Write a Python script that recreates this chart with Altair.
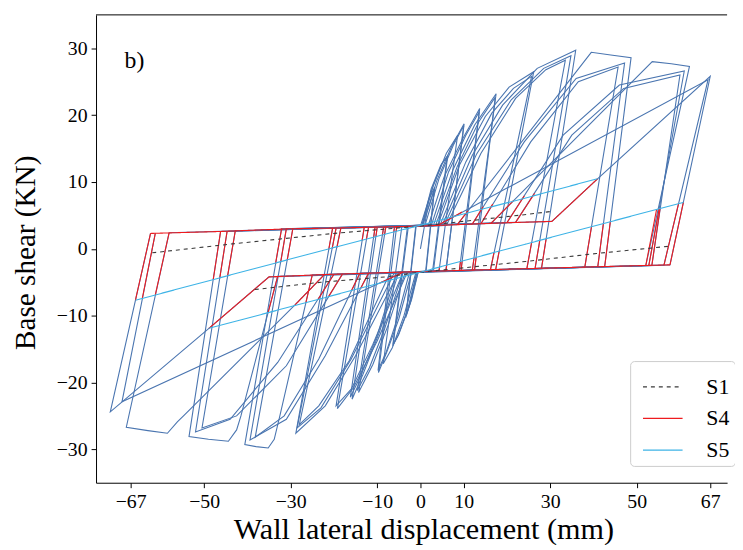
import altair as alt
import pandas as pd

FONT = "Liberation Serif"
X_TICKS = [-67, -50, -30, -10, 0, 10, 30, 50, 67]
Y_TICKS = [-30, -20, -10, 0, 10, 20, 30]
SERIES = ["S1", "S4", "S5"]
SERIES_COLORS = ["#3a3a3a", "#ee1b1f", "#3db3e6"]
SERIES_DASH = [[4, 4], [1, 0], [1, 0]]
BLUE_COLOR = "#4a75b0"

# reference hysteresis (blue, not in legend): one polyline per cycle
BLUE = [
    [(0, 0), (1.5, 5.5), (3.2, 8.8), (1.2, -3.4), (-0.5, -3.4), (-2, -7.5), (-3.3, -10), (-1, 3.35), (0.5, 3.4)],
    [(0.5, 3.4), (2, 7.5), (3.3, 9.2), (1.3, -3.4), (-0.8, -3.45), (-2.2, -7.8), (-3.4, -10.3), (-1.1, 3.35), (0.3, 3.4)],
    [(0.3, 3.4), (2.5, 9), (4.7, 12.5), (6.2, 13.8), (2.8, -3.35), (-0.5, -3.4), (-2.8, -9), (-5, -12.8), (-6.3, -14.3), (-2.8, 3.3), (0, 3.4)],
    [(0, 3.4), (2.8, 9.2), (5, 12.8), (6.3, 13.9), (3, -3.35), (-0.8, -3.45), (-3, -9.2), (-5.2, -13), (-6.4, -14.5), (-3, 3.3), (0.3, 3.4)],
    [(0.3, 3.4), (3, 9.5), (6, 14.3), (8.6, 17), (4.3, -3.3), (-1, -3.45), (-3.8, -10), (-6.5, -14.8), (-8.6, -17.2), (-4.3, 3.3), (0.5, 3.4)],
    [(0.5, 3.4), (3.8, 10.2), (7.2, 15.3), (10.1, 18.7), (5.9, -3.3), (-2, -3.45), (-5, -10.5), (-7.8, -15.5), (-9.7, -18.5), (-5.5, 3.3), (1, 3.4)],
    [(1, 3.4), (4.3, 10.5), (7.6, 15.5), (10, 18.4), (5.9, -3.3), (-2.5, -3.45), (-5.5, -10.8), (-8, -15.6), (-9.8, -18.2), (-6, 3.3), (1.8, 3.45)],
    [(1.8, 3.45), (5.5, 10.8), (9.8, 16.5), (13.7, 21), (9.4, -3.25), (-3.5, -3.5), (-7.5, -11.5), (-11, -17.3), (-14.3, -21.5), (-8, 3.25), (2.5, 3.45)],
    [(2.5, 3.45), (6.5, 11.5), (10.5, 17), (13.6, 20.5), (9, -3.25), (-4, -3.5), (-8.3, -12), (-11.8, -17.8), (-14.6, -21.2), (-8.5, 3.25), (3, 3.5)],
    [(3, 3.5), (7.5, 11.8), (12.5, 18.5), (17.5, 23.2), (12, -3.2), (-5, -3.5), (-9.5, -12.5), (-13.3, -18.8), (-15.8, -22.5), (-10, 3.2), (3.5, 3.5)],
    [(3.5, 3.5), (8.5, 12.3), (13.5, 19), (17.3, 22.7), (12.5, -3.2), (-5.5, -3.5), (-10, -13), (-13.8, -19), (-16.2, -22.2), (-10.5, 3.2), (4, 3.5)],
    [(4, 3.5), (9, 12.5), (15, 19.8), (20.5, 24.2), (26.2, 26.5), (17.4, -3.1), (-3, -3.45), (-10, -13.8), (-15.5, -20.8), (-19.2, -23.9), (-12, 3.2), (4.5, 3.5)],
    [(4.5, 3.5), (10.5, 13), (16.5, 20.3), (21.5, 24), (25.7, 25.8), (16.2, -3.1), (-4, -3.5), (-11, -14.3), (-16, -21), (-19.5, -23.5), (-13, 3.2), (5, 3.5)],
    [(5, 3.5), (12, 14), (19, 21.5), (27, 27), (35.9, 29.7), (28, -2.9), (-5, -3.5), (-15, -16), (-22, -23.5), (-28.8, -27.6), (-20.3, 3.1), (5.5, 3.5)],
    [(5.5, 3.5), (13, 14.2), (21, 22.3), (28.5, 27), (34.8, 28.9), (26.5, -2.95), (-6, -3.55), (-16, -16.5), (-23, -23.8), (-28.5, -26.8), (-19.5, 3.1), (6, 3.5)],
    [(6, 3.5), (14, 14.3), (22, 22.5), (29, 26.8), (33.5, 28.2), (24.6, -3.0), (-7, -3.55), (-16.5, -16.8), (-23.5, -23.5), (-28, -26.3), (-18.4, 3.1), (8.5, 3.6)],
    [(8.5, 3.6), (39.5, 29.4), (44, 29), (48.7, 28.6), (42.6, -2.65), (-25, -3.9), (-32.5, -25), (-33.8, -28.5), (-35.2, -29.8), (-38, -29.6), (-40.6, -29.3), (-32.1, 3.0), (12, 3.7)],
    [(12, 3.7), (24, 16), (36, 25.5), (47.2, 27.8), (41, -2.7), (-12, -3.65), (-22, -16), (-31, -25.5), (-39.4, -28.6), (-31, 3.0), (14, 3.75)],
    [(14, 3.75), (25.5, 16), (36.5, 25), (45.7, 27.2), (38, -2.75), (-14, -3.65), (-23.5, -16.5), (-31.5, -25), (-38.2, -28.2), (-29.5, 3.0), (16.3, 3.8)],
    [(16.3, 3.8), (53.6, 28), (58, 27.7), (62.2, 27.3), (52.1, -2.5), (-33, -4.1), (-41.5, -25), (-42.5, -27.1), (-44.4, -28.8), (-49, -28.5), (-53.5, -28.1), (-46.2, 2.6), (20, 3.9)],
    [(20, 3.9), (33, 17), (46, 24.5), (61, 26.6), (52.8, -2.5), (-20, -3.8), (-33, -17), (-44, -25.5), (-52, -27.4), (-44.7, 2.6), (22, 3.95)],
    [(22, 3.95), (35, 17), (47, 24), (60, 26), (53.5, -2.5), (-18, -3.75), (-31, -17.5), (-42.5, -25), (-50.5, -26.8), (-42.8, 2.7), (30.4, 4.1)],
    [(30.4, 4.1), (41, 10.5), (67, 25.8), (57.7, -2.4), (-22.2, -3.85), (-29, -8.4), (-54.6, -24.9), (-56.2, -25.9), (-58.5, -27.6), (-63, -27.2), (-68, -26.7), (-58.1, 2.4), (4, 3.5)],
    [(4, 3.5), (66.5, 25.3), (56.3, -2.45), (-35, -4.2), (-48.9, -11.9), (-71.7, -24.4), (-62.4, 2.3)],
    [(-4, -3.5), (-69, -22.9), (-61.3, 2.3)],
]

S4 = [
    [(-62.4, 2.3), (-46, 2.6), (-30, 3.0), (-20, 3.1), (0, 3.4), (20, 3.9), (30.4, 4.1), (41, 10.5)],
    [(-48.9, -11.9), (-35, -4.2), (-22, -3.85), (0, -3.4), (20, -3.05), (40, -2.7), (57.7, -2.4)],
    [(-22.2, -3.85), (-29, -8.4)],
    [(16.3, 3.8), (21.5, 7.2)], [(8.5, 3.6), (11, 5.7)], [(4, 3.5), (9.6, 5.5)],
    [(12, 3.7), (14.5, 6.3)], [(14, 3.75), (16.7, 6.7)], [(20, 3.9), (24, 7.9)], [(22, 3.95), (26.4, 8.3)],
    [(-4, -3.5), (-9.3, -5.1)], [(-12, -3.65), (-13.8, -5.9)], [(-14, -3.65), (-15.9, -6.2)],
    [(-20, -3.8), (-23.7, -7.6)], [(-18, -3.75), (-21.2, -7.1)], [(-25, -3.9), (-26.5, -8.1)], [(-33, -4.1), (-35.2, -9.5)],
    [(-62.4, 2.3), (-65.9, -7.7)], [(-61.3, 2.3), (-64.3, -7.4)], [(-58.1, 2.4), (-61.3, -6.9)],
    [(-46.2, 2.6), (-47.9, -4.6)], [(-44.7, 2.6), (-46.4, -4.4)], [(-42.8, 2.7), (-44.6, -4.1)],
    [(-32.1, 3.0), (-33.5, -2.2)], [(-31, 3.0), (-32.3, -2.0)], [(-29.5, 3.0), (-30.8, -1.7)],
    [(-20.3, 3.1), (-21.2, -0.1)], [(-19.5, 3.1), (-20.4, 0.05)], [(-18.4, 3.1), (-19.3, 0.2)],
    [(-13, 3.2), (-13.5, 1.2)], [(-12, 3.2), (-12.5, 1.4)], [(-10.5, 3.2), (-10.8, 1.7)], [(-10, 3.2), (-10.3, 1.8)],
    [(-8.5, 3.25), (-8.8, 2.0)], [(-8, 3.25), (-8.3, 2.1)], [(-6, 3.3), (-6.15, 2.5)], [(-5.5, 3.3), (-5.6, 2.6)],
    [(57.7, -2.4), (60.8, 6.95)], [(56.3, -2.45), (59.7, 6.8)], [(52.1, -2.5), (54.6, 5.9)],
    [(52.8, -2.5), (55.2, 6.0)], [(53.5, -2.5), (55.4, 6.0)],
    [(42.6, -2.65), (43.9, 4.05)], [(41, -2.7), (42.3, 3.8)], [(38, -2.75), (39.55, 3.3)],
    [(28, -2.9), (29.06, 1.5)], [(26.5, -2.95), (27.6, 1.26)], [(24.6, -3.0), (25.7, 0.94)],
    [(17.4, -3.1), (18.2, -0.36)], [(16.2, -3.1), (17.0, -0.56)],
    [(12, -3.2), (12.4, -1.36)], [(12.5, -3.2), (12.9, -1.27)],
    [(9.4, -3.25), (9.65, -1.83)], [(9, -3.25), (9.25, -1.9)],
    [(5.9, -3.3), (6.06, -2.45)], [(4.3, -3.3), (4.4, -2.73)],
]

S1 = [
    [(-62, -0.6), (-44, 0.7), (-20, 2.3), (0, 3.4), (24, 5.1), (30.4, 5.6)],
    [(-38.3, -6.1), (-23, -5.0), (-8, -4.2), (0, -3.5), (24.3, -1.9), (40.7, -0.7), (57.8, 0.4)],
]

S5 = [
    [(-65.9, -7.7), (-20, 0.2), (24.3, 7.6), (41, 10.5)],
    [(-48.9, -11.9), (-21.5, -7.2), (24.3, 0.7), (60.8, 6.95)],
]

PANEL = [{"label": "b)", "x": -68.4, "y": 27.0}]


def rows(paths, series):
    out = []
    for k, p in enumerate(paths):
        for i, (x, y) in enumerate(p):
            out.append({"series": series, "id": f"{series}-{k}", "i": i, "x": x, "y": y})
    return pd.DataFrame(out)


W, H = 638, 473
X_DOM = [-75, 70.9]
Y_DOM = [-35, 35]
MINUS = "datum.value < 0 ? '\u2212' + abs(datum.value) : '' + datum.value"

xenc = alt.X(
    "x:Q",
    scale=alt.Scale(domain=X_DOM, nice=False, zero=False),
    axis=alt.Axis(values=X_TICKS, labelExpr=MINUS, labelFontSize=20, labelPadding=4,
                  title="Wall lateral displacement (mm)", titleFontSize=30.5,
                  titleX=331, titleY=56, titleBaseline="alphabetic",
                  labelOverlap=False, labelFlush=False),
)
yenc = alt.Y(
    "y:Q",
    scale=alt.Scale(domain=Y_DOM, nice=False, zero=False),
    axis=alt.Axis(values=Y_TICKS, labelExpr=MINUS, labelFontSize=20, labelPadding=4,
                  title="Base shear (KN)", titleFontSize=29.5,
                  titleX=-62, titleY=240, titleBaseline="alphabetic",
                  labelOverlap=False),
)

leg = alt.Legend(
    title=None, orient="none", legendX=540, legendY=350,
    symbolType="stroke", symbolSize=1600, symbolStrokeWidth=1.2, symbolOffset=7,
    labelFont=FONT, labelFontSize=22, labelColor="black", labelOffset=23,
    padding=5, rowPadding=-4.5, strokeColor="#cccccc", fillColor="white", cornerRadius=4,
)
cenc = alt.Color("series:N", scale=alt.Scale(domain=SERIES, range=SERIES_COLORS), legend=leg)
denc = alt.StrokeDash("series:N", scale=alt.Scale(domain=SERIES, range=SERIES_DASH), legend=leg)

blue = alt.Chart(rows(BLUE, "ref")).mark_line(color=BLUE_COLOR, strokeWidth=1.1).encode(
    x=xenc, y=yenc, detail="id:N", order="i:Q")


def series_layer(paths, name):
    return alt.Chart(rows(paths, name)).mark_line(strokeWidth=1.1).encode(
        x=xenc, y=yenc, color=cenc, strokeDash=denc, detail="id:N", order="i:Q")


s4 = series_layer(S4, "S4")
s1 = series_layer(S1, "S1")
s5 = series_layer(S5, "S5")

label = alt.Chart(pd.DataFrame(PANEL)).mark_text(
    align="left", baseline="alphabetic", font=FONT, fontSize=24, color="black"
).encode(x=xenc, y=yenc, text="label:N")

top = alt.Chart(pd.DataFrame({"a": [0]})).mark_rule(color="black", strokeWidth=1).encode(
    x=alt.value(0), x2=alt.value(W), y=alt.value(0))

chart = alt.layer(blue, s4, s1, s5, label, top).properties(
    width=W, height=H,
    padding={"left": 89, "top": 4, "right": 8, "bottom": 60},
    autosize=alt.AutoSizeParams(type="none"),
).configure_view(stroke=None).configure_axis(
    domainColor="black", tickColor="black", labelColor="black", titleColor="black",
    grid=False, labelFont=FONT, titleFont=FONT, titleFontWeight="normal", tickSize=5,
    domainWidth=1, tickWidth=1,
)

chart.save("out.html", embed_options={"renderer": "svg", "actions": False})
